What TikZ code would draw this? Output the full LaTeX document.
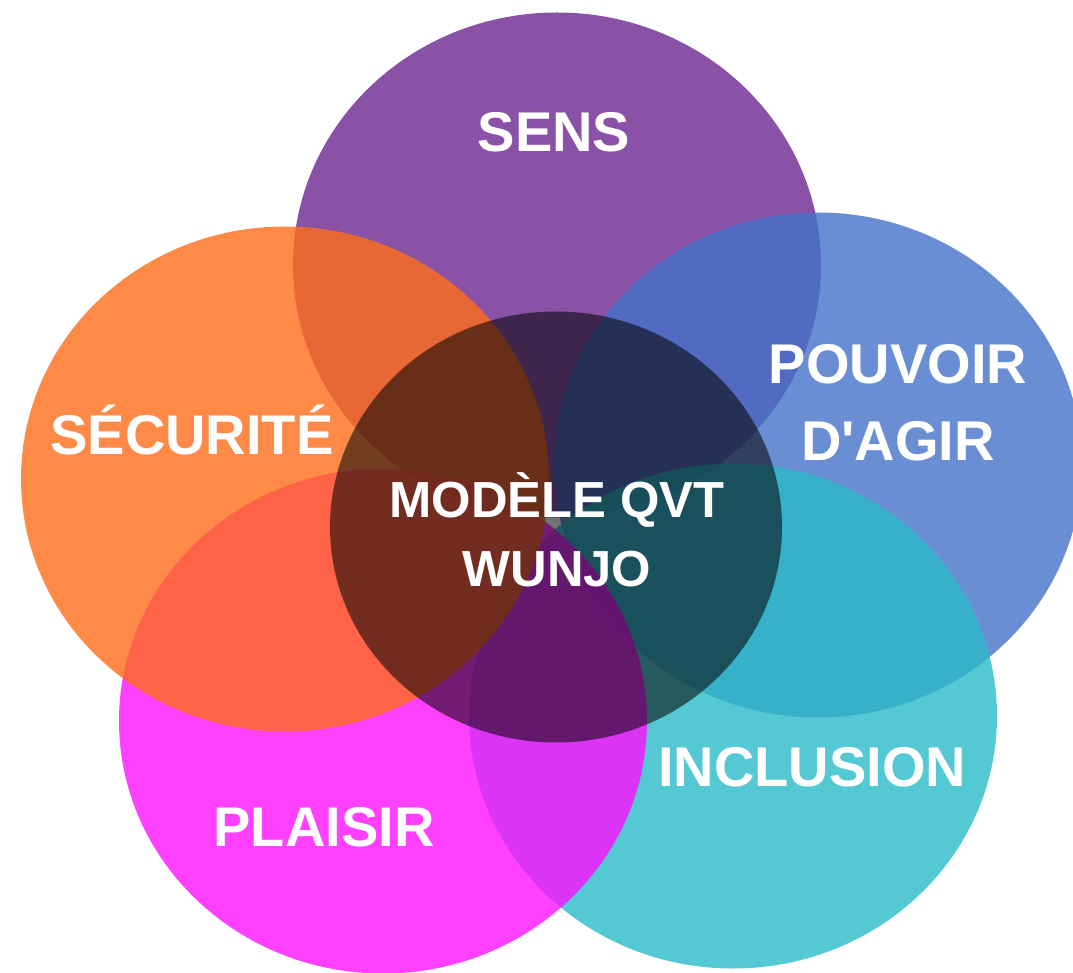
\documentclass[tikz,border=0pt]{standalone}
\usepackage{fontspec}
\setmainfont{Liberation Sans}[Ligatures=TeXOff]
\usetikzlibrary{positioning,shapes.geometric}

\definecolor{sensviolet}{RGB}{109,39,145}
\definecolor{secuorange}{RGB}{255,109,26}
\definecolor{agirblue}{RGB}{69,114,201}
\definecolor{inclteal}{RGB}{43,187,200}
\definecolor{plaisirpink}{RGB}{255,16,255}

\begin{document}
\begin{tikzpicture}[x=1pt,y=-1pt,
    petal/.style={ellipse, inner sep=0pt, minimum width=528pt, minimum height=505pt, fill opacity=0.8},
    tag/.style={text=white, inner sep=0pt, align=center, font=\bfseries\fontsize{56}{77}\selectfont}]

    \useasboundingbox (0,0) rectangle (1073,973);
    \clip (0,0) rectangle (1073,973);

    \node [petal, fill=sensviolet] (sens) at (557,265) {}; % top
    \node [petal, fill=agirblue] (agir) at (818,465) {}; % right
    \node [petal, fill=inclteal] (incl) at (733,716) {}; % bottom right
    \node [petal, fill=plaisirpink] (plaisir) at (383,721) {}; % bottom left
    \node [petal, fill=secuorange] (secu) at (285,479) {}; % left
    \node [petal, fill=black, fill opacity=0.55, minimum width=452pt, minimum height=431pt] (qvt) at (556,527) {}; % centre

    \node [tag, above=113pt of sens.center, xshift=-3pt] (senstext) {SENS};
    \node [tag, above=24pt of secu.center, xshift=-93pt] (secutext) {SÉCURITÉ};
    \node [tag, above=4pt of agir.center, xshift=80pt] (agirtext) {POUVOIR\\D'AGIR};
    \node [tag, below=31pt of incl.center, xshift=79pt] (incltext) {INCLUSION};
    \node [tag, below=86pt of plaisir.center, xshift=-59pt] (plaisirtext) {PLAISIR};
    \node [tag, above=-60pt of qvt.center, xshift=1pt, font=\bfseries\fontsize{50.7}{69}\selectfont] (qvttext) {MODÈLE QVT\\WUNJO};
\end{tikzpicture}
\end{document}
